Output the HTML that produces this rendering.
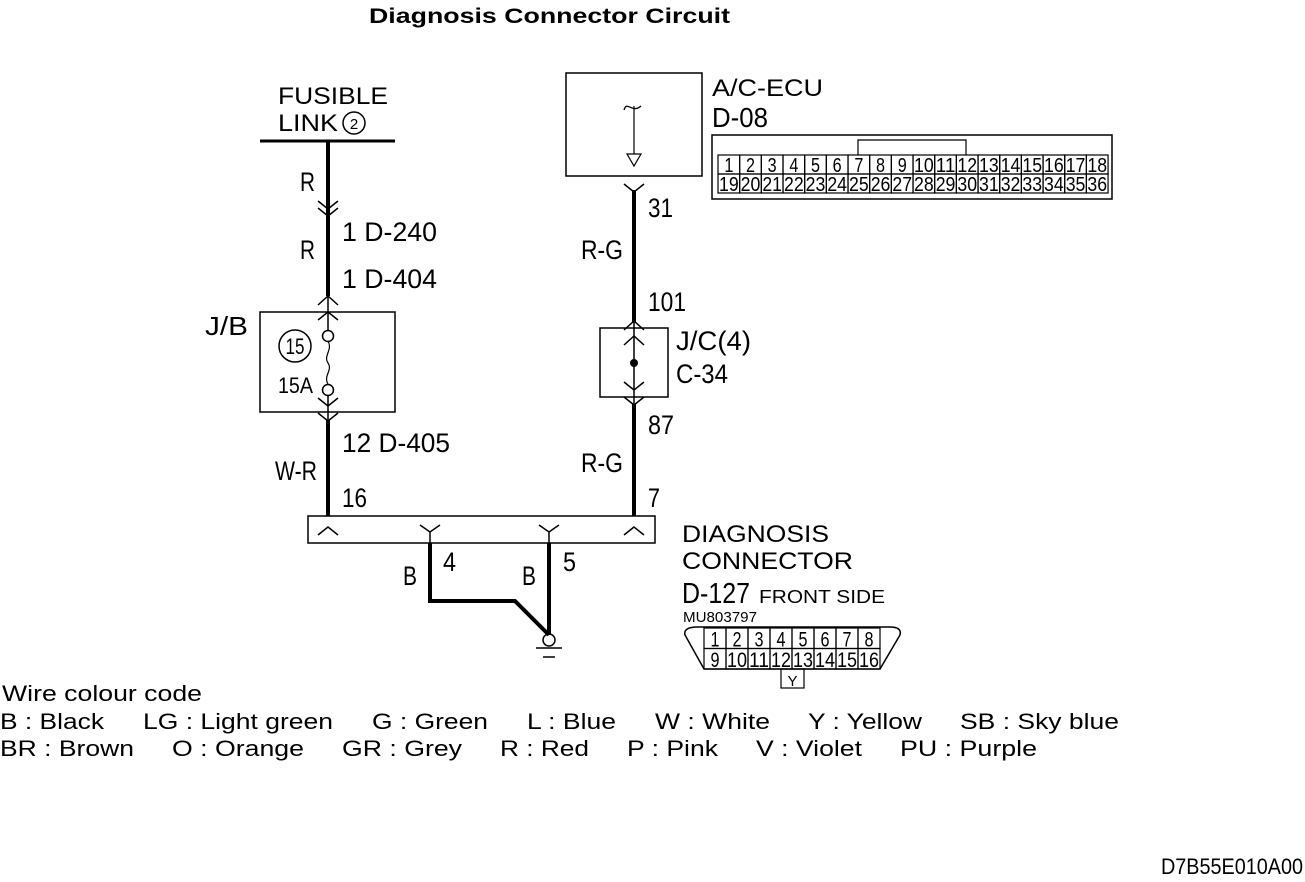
<!DOCTYPE html>
<html><head><meta charset="utf-8"><style>
html,body{margin:0;padding:0;background:#fff;}
svg{display:block;}
.c{font-family:"Liberation Sans Narrow","Liberation Sans",sans-serif;fill:#000;}
.s{font-family:"Liberation Sans",sans-serif;fill:#000;}
</style></head><body>
<svg id="d" width="1305" height="882" viewBox="0 0 1305 882" xmlns="http://www.w3.org/2000/svg">
<rect width="1305" height="882" fill="#fff"/>
<text class="s" x="369" y="23" font-size="21" font-weight="bold" textLength="361" lengthAdjust="spacingAndGlyphs">Diagnosis Connector Circuit</text>

<g>
<text class="s" x="278" y="104" font-size="24" textLength="110" lengthAdjust="spacingAndGlyphs">FUSIBLE</text>
<text class="s" x="278" y="131" font-size="24" textLength="60" lengthAdjust="spacingAndGlyphs">LINK</text>
<circle cx="354" cy="123" r="11" fill="none" stroke="#000" stroke-width="1.5"/>
<text class="s" x="354" y="129" font-size="15" text-anchor="middle">2</text>
<line x1="260" y1="141" x2="395" y2="141" stroke="#000" stroke-width="3"/>
</g>

<g stroke="#000" fill="none">
<line x1="328" y1="141" x2="328" y2="296" stroke-width="4"/>
<path d="M318,201 L328,209 L338,201 M318,208 L328,216 L338,208" stroke-width="1.5"/>
<path d="M318,305 L328,296 L338,305 M318,320 L328,312 L338,320" stroke-width="1.5"/>
<line x1="328" y1="296" x2="328" y2="330" stroke-width="1.5"/>
<rect x="260" y="312" width="135" height="100" stroke-width="1.5"/>
<circle cx="328" cy="336" r="5.5" stroke-width="1.5"/>
<circle cx="328" cy="390" r="5.5" stroke-width="1.5"/>
<path d="M328,341 C333,350 323,356 328,363 C333,370 323,376 328,384" stroke-width="1.2"/>
<line x1="328" y1="395" x2="328" y2="420" stroke-width="1.5"/>
<path d="M318,398 L328,406 L338,398 M318,413 L328,421 L338,413" stroke-width="1.5"/>
<line x1="328" y1="420" x2="328" y2="516" stroke-width="4"/>
<circle cx="295" cy="346" r="16" stroke-width="1.5"/>
</g>
<text class="c" x="300" y="191" font-size="27" textLength="15" lengthAdjust="spacingAndGlyphs">R</text>
<text class="c" x="300" y="259" font-size="27" textLength="15" lengthAdjust="spacingAndGlyphs">R</text>
<text class="c" x="342" y="241" font-size="27" textLength="95" lengthAdjust="spacingAndGlyphs">1  D-240</text>
<text class="c" x="342" y="288" font-size="27" textLength="95" lengthAdjust="spacingAndGlyphs">1  D-404</text>
<text class="c" x="205" y="335" font-size="26" textLength="43" lengthAdjust="spacingAndGlyphs">J/B</text>
<text class="c" x="295" y="354" font-size="22" text-anchor="middle" textLength="19" lengthAdjust="spacingAndGlyphs">15</text>
<text class="c" x="278" y="393" font-size="22" textLength="35" lengthAdjust="spacingAndGlyphs">15A</text>
<text class="c" x="342" y="452" font-size="27" textLength="108" lengthAdjust="spacingAndGlyphs">12  D-405</text>
<text class="c" x="275" y="480" font-size="27" textLength="42" lengthAdjust="spacingAndGlyphs">W-R</text>
<text class="c" x="342" y="507" font-size="27" textLength="25" lengthAdjust="spacingAndGlyphs">16</text>

<g stroke="#000" fill="none">
<rect x="566" y="73" width="136" height="103" stroke-width="1.5"/>
<path d="M624,110 C627,100 632,114 641,106" stroke-width="1.3"/>
<line x1="634" y1="106" x2="634" y2="154" stroke-width="1.2"/>
<path d="M627,154 L641,154 L634,166 Z" stroke-width="1.2"/>
</g>
<g stroke="#000" fill="none">
<path d="M624,184 L634,192 L644,184" stroke-width="1.5"/>
<line x1="634" y1="190" x2="634" y2="322" stroke-width="4"/>
<path d="M624,330 L634,321 L644,330 M624,345 L634,336 L644,345" stroke-width="1.5"/>
<line x1="634" y1="320" x2="634" y2="410" stroke-width="1.5"/>
<rect x="600" y="328" width="68" height="69" stroke-width="1.5"/>
<circle cx="634" cy="363" r="3.5" fill="#000"/>
<path d="M624,382 L634,390 L644,382 M624,397 L634,405 L644,397" stroke-width="1.5"/>
<line x1="634" y1="404" x2="634" y2="516" stroke-width="4"/>
</g>
<text class="s" x="712" y="96" font-size="24" textLength="111" lengthAdjust="spacingAndGlyphs">A/C-ECU</text>
<text class="c" x="712" y="127" font-size="28" textLength="56" lengthAdjust="spacingAndGlyphs">D-08</text>
<text class="c" x="648" y="217" font-size="27" textLength="25" lengthAdjust="spacingAndGlyphs">31</text>
<text class="c" x="581" y="259" font-size="27" textLength="42" lengthAdjust="spacingAndGlyphs">R-G</text>
<text class="c" x="648" y="311" font-size="27" textLength="38" lengthAdjust="spacingAndGlyphs">101</text>
<text class="c" x="676" y="350" font-size="27" textLength="75" lengthAdjust="spacingAndGlyphs">J/C(4)</text>
<text class="c" x="676" y="383" font-size="27" textLength="52" lengthAdjust="spacingAndGlyphs">C-34</text>
<text class="c" x="648" y="434" font-size="27" textLength="26" lengthAdjust="spacingAndGlyphs">87</text>
<text class="c" x="581" y="472" font-size="27" textLength="42" lengthAdjust="spacingAndGlyphs">R-G</text>
<text class="c" x="648" y="507" font-size="27" textLength="12" lengthAdjust="spacingAndGlyphs">7</text>

<g stroke="#000" fill="none">
<rect x="308" y="516" width="347" height="27" stroke-width="1.5"/>
<path d="M318,535 L328,527 L338,535 M624,535 L634,527 L644,535" stroke-width="1.5"/>
<path d="M420,525 L430,532 L440,525 M430,532 L430,543 M539,525 L549,532 L559,525 M549,532 L549,543" stroke-width="1.5"/>
<path d="M430,543 L430,601 L515,601 L549,635 M549,543 L549,635" stroke-width="4"/>
<circle cx="549" cy="640" r="6" stroke-width="1.5"/>
<line x1="536" y1="648" x2="562" y2="648" stroke-width="1.5"/>
<line x1="543" y1="657" x2="555" y2="657" stroke-width="1.5"/>
</g>
<text class="c" x="403" y="585" font-size="27" textLength="14" lengthAdjust="spacingAndGlyphs">B</text>
<text class="c" x="443" y="571" font-size="27" textLength="13" lengthAdjust="spacingAndGlyphs">4</text>
<text class="c" x="522" y="585" font-size="27" textLength="14" lengthAdjust="spacingAndGlyphs">B</text>
<text class="c" x="563" y="571" font-size="27" textLength="13" lengthAdjust="spacingAndGlyphs">5</text>
<text class="s" x="682" y="542" font-size="24" textLength="147" lengthAdjust="spacingAndGlyphs">DIAGNOSIS</text>
<text class="s" x="682" y="569" font-size="24" textLength="171" lengthAdjust="spacingAndGlyphs">CONNECTOR</text>
<text class="c" x="682" y="603" font-size="29" textLength="68" lengthAdjust="spacingAndGlyphs">D-127</text>
<text class="s" x="759" y="603" font-size="18" textLength="126" lengthAdjust="spacingAndGlyphs">FRONT SIDE</text>
<text class="c" x="683" y="622" font-size="15" textLength="74" lengthAdjust="spacingAndGlyphs">MU803797</text>
<path d="M698,627 L890,627 Q902,627 900,635 L880,669 L704,669 L685,635 Q683,627 698,627 Z" fill="none" stroke="#000" stroke-width="1.5"/>
<g id="dlc"></g>
<rect x="781" y="669" width="23" height="19" fill="none" stroke="#000" stroke-width="1.2"/>
<text class="c" x="792.5" y="686" font-size="15" text-anchor="middle">Y</text>

<rect x="712" y="135" width="400" height="64" fill="none" stroke="#000" stroke-width="1.5"/>
<path d="M858,155 L858,140 L966,140 L966,155" fill="none" stroke="#000" stroke-width="1.2"/>
<g id="ecu"></g>

<g>
<text class="s" x="2" y="701" font-size="22" textLength="200" lengthAdjust="spacingAndGlyphs">Wire colour code</text>
<text class="s" x="0" y="729" font-size="22" textLength="104" lengthAdjust="spacingAndGlyphs">B : Black</text>
<text class="s" x="143" y="729" font-size="22" textLength="190" lengthAdjust="spacingAndGlyphs">LG : Light green</text>
<text class="s" x="372" y="729" font-size="22" textLength="116" lengthAdjust="spacingAndGlyphs">G : Green</text>
<text class="s" x="527" y="729" font-size="22" textLength="89" lengthAdjust="spacingAndGlyphs">L : Blue</text>
<text class="s" x="655" y="729" font-size="22" textLength="115" lengthAdjust="spacingAndGlyphs">W : White</text>
<text class="s" x="808" y="729" font-size="22" textLength="114" lengthAdjust="spacingAndGlyphs">Y : Yellow</text>
<text class="s" x="960" y="729" font-size="22" textLength="159" lengthAdjust="spacingAndGlyphs">SB : Sky blue</text>
<text class="s" x="0" y="756" font-size="22" textLength="134" lengthAdjust="spacingAndGlyphs">BR : Brown</text>
<text class="s" x="172" y="756" font-size="22" textLength="132" lengthAdjust="spacingAndGlyphs">O : Orange</text>
<text class="s" x="342" y="756" font-size="22" textLength="120" lengthAdjust="spacingAndGlyphs">GR : Grey</text>
<text class="s" x="500" y="756" font-size="22" textLength="89" lengthAdjust="spacingAndGlyphs">R : Red</text>
<text class="s" x="627" y="756" font-size="22" textLength="91" lengthAdjust="spacingAndGlyphs">P : Pink</text>
<text class="s" x="756" y="756" font-size="22" textLength="106" lengthAdjust="spacingAndGlyphs">V : Violet</text>
<text class="s" x="900" y="756" font-size="22" textLength="137" lengthAdjust="spacingAndGlyphs">PU : Purple</text>
</g>
<text class="c" x="1161" y="874" font-size="22" textLength="142" lengthAdjust="spacingAndGlyphs">D7B55E010A00</text>
</svg>
<script>
var NS="http://www.w3.org/2000/svg";
function grid(gid,x0,y0,w,h,cols,rows,fs){
  var g=document.getElementById(gid);
  for(var r=0;r<rows;r++){for(var c=0;c<cols;c++){
    var rc=document.createElementNS(NS,"rect");
    rc.setAttribute("x",x0+c*w);rc.setAttribute("y",y0+r*h);
    rc.setAttribute("width",w);rc.setAttribute("height",h);
    rc.setAttribute("fill","none");rc.setAttribute("stroke","#000");rc.setAttribute("stroke-width","1.2");
    
    
    g.appendChild(rc);
    var t=document.createElementNS(NS,"text");
    var n=r*cols+c+1;
    t.setAttribute("x",x0+c*w+w/2);t.setAttribute("y",y0+r*h+h-2);
    t.setAttribute("text-anchor","middle");t.setAttribute("font-size",fs);
    t.setAttribute("class","c");
    if(n>9){t.setAttribute("textLength",w-2);t.setAttribute("lengthAdjust","spacingAndGlyphs");}
    else{t.setAttribute("textLength",9);t.setAttribute("lengthAdjust","spacingAndGlyphs");}
    t.textContent=n;
    
    
    g.appendChild(t);
  }}
}
grid("ecu",718,155,21.67,19,18,2,20);
grid("dlc",704,628,22,20.5,8,2,21);
</script>
</body></html>
